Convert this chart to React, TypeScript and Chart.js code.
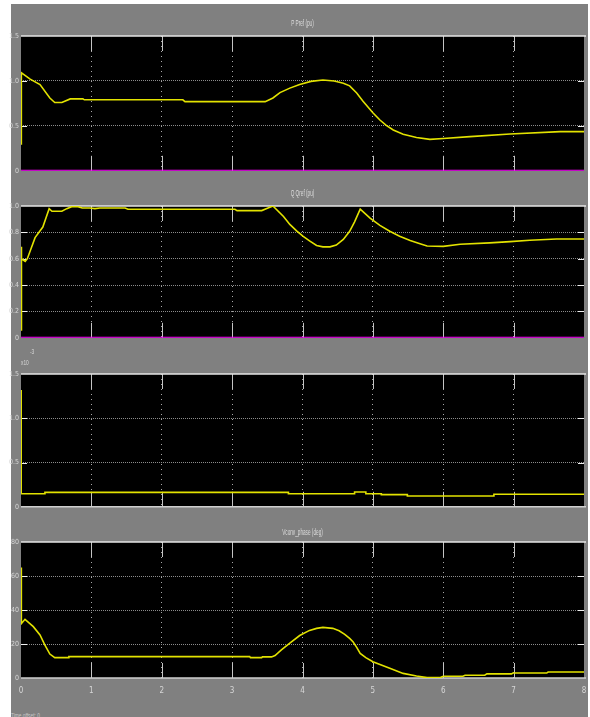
import React, { useEffect, useRef } from "react";
import { Chart, registerables } from "chart.js";

Chart.register(...registerables);

// ---------- data ----------
const TIME_MIN = 0;
const TIME_MAX = 8;
const timeTicks = [0, 1, 2, 3, 4, 5, 6, 7, 8];

// Panel 1: P and Pref (pu)
const pTime = [0, 0.005, 0.13, 0.27, 0.41, 0.48, 0.58, 0.7, 0.74, 0.88, 0.9, 2.3, 2.33, 3.47, 3.58, 3.68, 3.82, 3.96, 4.12, 4.29, 4.45, 4.58, 4.67, 4.77, 4.86, 5.0, 5.1, 5.19, 5.29, 5.43, 5.62, 5.81, 6.0, 6.38, 6.95, 7.66, 8];
const pValues = [0.3, 1.09, 1.02, 0.96, 0.81, 0.76, 0.76, 0.8, 0.8, 0.8, 0.79, 0.79, 0.77, 0.77, 0.81, 0.87, 0.92, 0.96, 0.995, 1.01, 1.0, 0.975, 0.945, 0.865, 0.775, 0.645, 0.565, 0.505, 0.454, 0.407, 0.37, 0.35, 0.36, 0.38, 0.41, 0.436, 0.436];
const refTime = [0, 8];
const pRefValues = [0, 0];

// Panel 2: Q and Qref (pu)
const qTime = [0, 0.003, 0.01, 0.06, 0.09, 0.2, 0.31, 0.4, 0.44, 0.58, 0.65, 0.72, 0.81, 0.87, 0.98, 1.05, 1.12, 1.48, 1.52, 3.04, 3.07, 3.42, 3.51, 3.58, 3.73, 3.82, 3.92, 4.01, 4.1, 4.2, 4.29, 4.39, 4.48, 4.58, 4.67, 4.74, 4.82, 4.96, 5.1, 5.24, 5.38, 5.53, 5.67, 5.77, 6.0, 6.24, 6.66, 6.95, 7.23, 7.61, 8];
const qValues = [0.06, 0.69, 0.6, 0.58, 0.6, 0.76, 0.84, 0.98, 0.96, 0.96, 0.98, 0.995, 0.995, 0.985, 0.985, 0.98, 0.985, 0.985, 0.975, 0.975, 0.965, 0.965, 0.985, 1.0, 0.92, 0.86, 0.81, 0.77, 0.735, 0.7, 0.69, 0.69, 0.704, 0.746, 0.808, 0.88, 0.976, 0.908, 0.853, 0.808, 0.771, 0.739, 0.714, 0.696, 0.694, 0.71, 0.72, 0.73, 0.74, 0.75, 0.75];
const qRefValues = [0, 0];

// Panel 3: signal in units of 1e-3
const sTime = [0, 0, 0.005, 0.34, 0.34, 3.8, 3.8, 4.74, 4.74, 4.9, 4.9, 5.12, 5.12, 5.49, 5.49, 6.72, 6.72, 8];
const sValues = [0.148, 1.32, 0.148, 0.148, 0.163, 0.163, 0.148, 0.148, 0.167, 0.167, 0.148, 0.148, 0.137, 0.137, 0.122, 0.122, 0.141, 0.141];

// Panel 4: Vconv_phase (deg)
const aTime = [0, 0.005, 0.057, 0.175, 0.27, 0.34, 0.41, 0.48, 0.67, 0.68, 3.25, 3.26, 3.42, 3.43, 3.56, 3.61, 3.7, 3.82, 3.96, 4.1, 4.2, 4.29, 4.43, 4.52, 4.6, 4.67, 4.72, 4.77, 4.82, 4.9, 5.0, 5.24, 5.43, 5.62, 5.77, 5.95, 6.0, 6.28, 6.31, 6.59, 6.62, 6.97, 6.99, 7.47, 7.49, 8];
const aValues = [65, 32, 34.5, 30.2, 25.3, 19.4, 14.1, 12.0, 12.0, 12.6, 12.6, 12.0, 12.0, 12.4, 12.4, 13.2, 16.5, 20.5, 25, 28, 29.2, 29.8, 29.2, 27.8, 25.7, 23.3, 21.2, 18, 14.5, 12, 9.6, 5.7, 2.7, 1.2, 0.2, 0.2, 1.0, 1.0, 1.6, 1.6, 2.4, 2.4, 2.9, 2.9, 3.5, 3.5];

const titles = ["P Pref (pu)", "Q Qref (pu)", "", "Vconv_phase (deg)"];
const yRanges = [
  [0, 1.5, 0.5],
  [0, 1, 0.2],
  [0, 1.5, 0.5],
  [0, 80, 20],
];

// ---------- styling ----------
const YELLOW = "#e2e200";
const MAGENTA = "#ff00ff";
const TICK_FONT = "'Liberation Sans Narrow', 'DejaVu Sans Condensed', 'Liberation Sans', sans-serif";

const toPts = (xs: number[], ys: number[]) => xs.map((x, i) => ({ x, y: ys[i] }));

type PanelCfg = {
  top: number;
  height: number;
  padTop: number;
  xHeight: number;
  showX: boolean;
  bottomLine: boolean;
  series: { xs: number[]; ys: number[]; color: string; width: number }[];
  range: number[];
};

const panels: PanelCfg[] = [
  {
    top: 4, height: 173, padTop: 32, xHeight: 4, showX: false, bottomLine: false, range: yRanges[0],
    series: [
      { xs: refTime, ys: pRefValues, color: MAGENTA, width: 2 },
      { xs: pTime, ys: pValues, color: YELLOW, width: 1.6 },
    ],
  },
  {
    top: 177, height: 167, padTop: 29, xHeight: 4, showX: false, bottomLine: false, range: yRanges[1],
    series: [
      { xs: refTime, ys: qRefValues, color: MAGENTA, width: 2 },
      { xs: qTime, ys: qValues, color: YELLOW, width: 1.6 },
    ],
  },
  {
    top: 344, height: 169, padTop: 30, xHeight: 4, showX: false, bottomLine: true, range: yRanges[2],
    series: [{ xs: sTime, ys: sValues, color: YELLOW, width: 1.6 }],
  },
  {
    top: 513, height: 185, padTop: 29, xHeight: 20, showX: true, bottomLine: true, range: yRanges[3],
    series: [{ xs: aTime, ys: aValues, color: YELLOW, width: 1.6 }],
  },
];

const scopePlugin = {
  id: "scopeFrame",
  beforeDraw(chart: any) {
    const { ctx, chartArea: a } = chart;
    ctx.save();
    ctx.fillStyle = "#000";
    ctx.fillRect(a.left, a.top, a.right - a.left, a.bottom - a.top);
    ctx.restore();
  },
  beforeDatasetsDraw(chart: any, _args: any, opts: any) {
    const { ctx, chartArea: a } = chart;
    const xs = chart.scales.x;
    const ys = chart.scales.y;
    ctx.save();
    ctx.lineWidth = 1;
    // vertical tick segments
    ctx.strokeStyle = "#c4c4c4";
    xs.ticks.forEach((t: any) => {
      if (t.value <= xs.min || t.value >= xs.max) return;
      const px = Math.round(xs.getPixelForValue(t.value)) + 0.5;
      ctx.beginPath();
      ctx.moveTo(px, a.top);
      ctx.lineTo(px, a.top + 15);
      ctx.moveTo(px, a.bottom - 15);
      ctx.lineTo(px, a.bottom);
      ctx.stroke();
    });
    // horizontal tick segments
    ctx.strokeStyle = "#f0f0f0";
    ys.ticks.forEach((t: any) => {
      if (t.value <= ys.min || t.value >= ys.max) return;
      const py = Math.round(ys.getPixelForValue(t.value)) + 0.5;
      ctx.beginPath();
      ctx.moveTo(a.left, py);
      ctx.lineTo(a.left + 6, py);
      ctx.moveTo(a.right - 6, py);
      ctx.lineTo(a.right, py);
      ctx.stroke();
    });
    // top border
    ctx.strokeStyle = "#e6e6e6";
    ctx.lineWidth = 1.5;
    ctx.beginPath();
    ctx.moveTo(a.left, a.top);
    ctx.lineTo(a.right + 2, a.top);
    ctx.stroke();
    if (opts && opts.bottomLine) {
      ctx.strokeStyle = "#cfcfcf";
      ctx.beginPath();
      ctx.moveTo(a.left, a.bottom);
      ctx.lineTo(a.right + 2, a.bottom);
      ctx.stroke();
    }
    ctx.restore();
  },
};

function App() {
  const refs = useRef<(HTMLCanvasElement | null)[]>([]);

  useEffect(() => {
    const charts = panels.map((p, i) => {
      const canvas = refs.current[i]!;
      const [ymin, ymax, ystep] = p.range;
      return new Chart(canvas, {
        type: "line",
        data: {
          datasets: p.series.map((s) => ({
            data: toPts(s.xs, s.ys),
            borderColor: s.color,
            borderWidth: s.width,
            pointRadius: 0,
            tension: 0,
            fill: false,
          })),
        },
        options: {
          animation: false,
          responsive: false,
          devicePixelRatio: 1,
          events: [],
          layout: { padding: { top: p.padTop, right: 4, left: 0, bottom: 0 } },
          plugins: {
            legend: { display: false },
            tooltip: { enabled: false },
            scopeFrame: { bottomLine: p.bottomLine },
          } as any,
          scales: {
            x: {
              type: "linear",
              min: TIME_MIN,
              max: TIME_MAX,
              afterBuildTicks: (s: any) => {
                s.ticks = timeTicks.map((v) => ({ value: v }));
              },
              afterFit: (s: any) => {
                s.height = p.xHeight;
                s.paddingLeft = 0;
                s.paddingRight = 0;
              },
              ticks: {
                display: p.showX,
                padding: 8,
                color: "#d6d6d6",
                font: { family: TICK_FONT, size: 8 },
                maxRotation: 0,
                autoSkip: false,
              },
              grid: {
                drawTicks: false,
                lineWidth: 1,
                color: (c: any) =>
                  c.tick && (c.tick.value <= TIME_MIN || c.tick.value >= TIME_MAX) ? "rgba(0,0,0,0)" : "#a8a8a8",
              },
              border: { display: false, dash: [1, 4] },
            },
            y: {
              type: "linear",
              min: ymin,
              max: ymax,
              ticks: {
                stepSize: ystep,
                padding: 2,
                color: "#d6d6d6",
                font: { family: TICK_FONT, size: 7 },
              },
              afterFit: (s: any) => {
                s.width = 21;
              },
              grid: {
                drawTicks: false,
                lineWidth: 1,
                color: (c: any) =>
                  c.tick && (c.tick.value <= ymin || c.tick.value >= ymax) ? "rgba(0,0,0,0)" : "#8c8c8c",
              },
              border: { display: false, dash: [1, 1] },
            },
          },
        },
        plugins: [scopePlugin],
      } as any);
    });
    return () => charts.forEach((c) => c.destroy());
  }, []);

  const titleStyle = (top: number): React.CSSProperties => ({
    position: "absolute",
    left: 21,
    width: 563,
    top,
    textAlign: "center",
    fontFamily: "'Liberation Sans', Arial, sans-serif",
    fontSize: 9,
    lineHeight: "10px",
    color: "#dcdcdc",
    transform: "scaleX(0.52)",
    transformOrigin: "center",
    whiteSpace: "nowrap",
    zIndex: 2,
  });

  const titleTops = [18, 188, 0, 527];

  return (
    <div
      style={{
        position: "fixed",
        left: 0,
        top: 0,
        width: 590,
        height: 717,
        background: "#ffffff",
        overflow: "hidden",
      }}
    >
      <div style={{ position: "absolute", left: 11, top: 4, width: 577, height: 713, background: "#808080" }} />
      {panels.map((p, i) => (
        <canvas
          key={i}
          ref={(el) => {
            refs.current[i] = el;
          }}
          width={588}
          height={p.height}
          style={{ position: "absolute", left: 0, top: p.top, width: 588, height: p.height, zIndex: 1 }}
        />
      ))}
      {titles.map((t, i) =>
        t ? (
          <div key={"t" + i} style={titleStyle(titleTops[i])}>
            {t}
          </div>
        ) : null
      )}
      <div
        style={{
          position: "absolute",
          left: 21,
          top: 358,
          fontFamily: "'Liberation Sans', Arial, sans-serif",
          fontSize: 8,
          color: "#d6d6d6",
          zIndex: 2,
          whiteSpace: "nowrap",
        }}
      >
        <span style={{ display: "inline-block", transform: "scaleX(0.6)", transformOrigin: "left" }}>x10</span>
        <span style={{ position: "absolute", left: 9, top: -11, transform: "scaleX(0.6)", transformOrigin: "left" }}>-3</span>
      </div>
      <div
        style={{
          position: "absolute",
          left: 11,
          top: 711,
          fontFamily: "'Liberation Sans', Arial, sans-serif",
          fontSize: 8,
          color: "#c8c8c8",
          zIndex: 2,
          whiteSpace: "nowrap",
          transform: "scaleX(0.6)",
          transformOrigin: "left",
        }}
      >
        Time offset: 0
      </div>
    </div>
  );
}

export default App;
